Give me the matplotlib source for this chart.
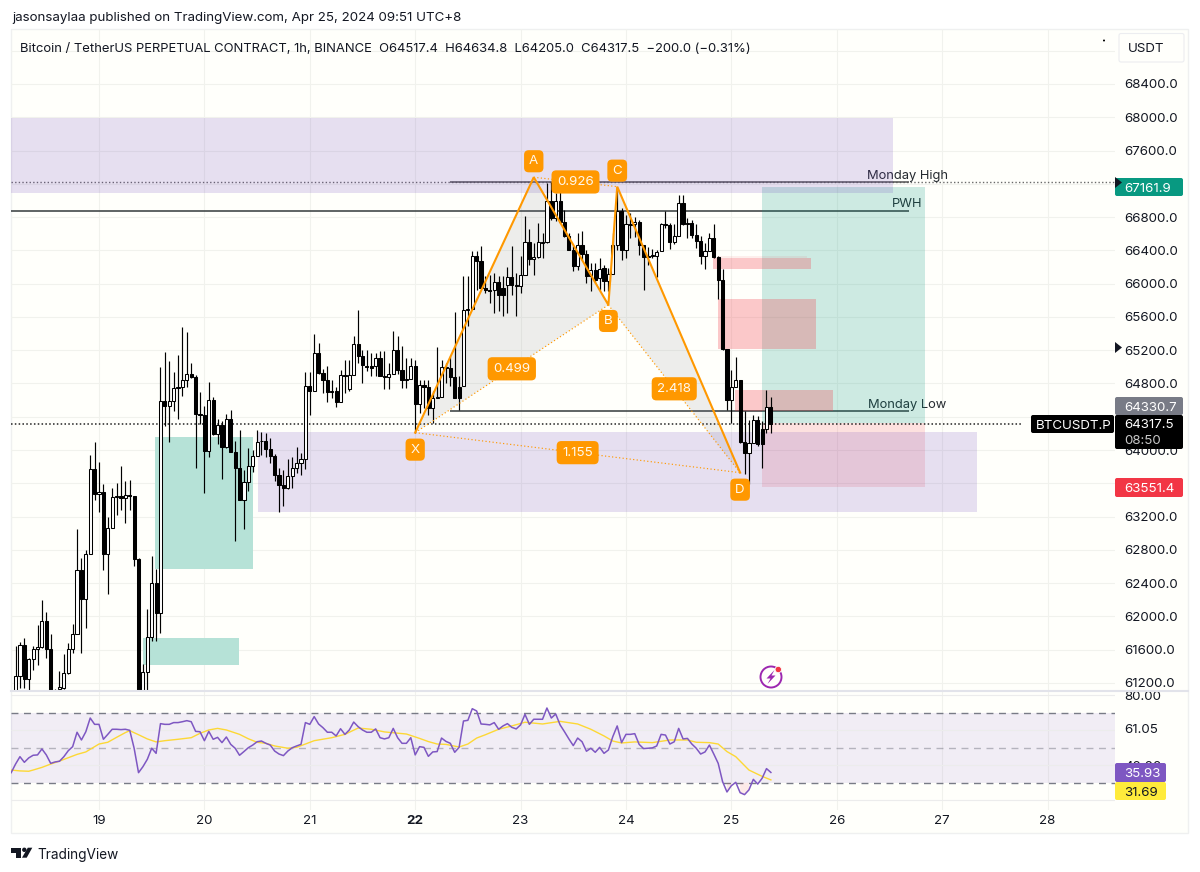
import matplotlib
matplotlib.use("Agg")
import matplotlib.pyplot as plt
from matplotlib.patches import Rectangle, FancyBboxPatch, Polygon, Circle
import numpy as np

plt.rcParams["font.family"] = ["Inter", "DejaVu Sans"]

# hourly candles, first one is Apr 18 05:00 (UTC+8)
opens = [
    61104, 61284, 61652, 61252, 61492, 61612, 61636, 61944, 61612, 61084, 61124, 61144, 61316, 61604, 61792, 62556,
    62212, 62756, 63772, 63476, 63492, 62756, 63068, 63436, 63444, 63424, 63464, 63444, 62692, 61044, 61332, 61752,
    62400, 62044, 64592, 64524, 64592, 64740, 64756, 64836, 64916, 64872, 64432, 64424, 63984, 64604, 64192, 64300,
    64032, 64372, 63980, 63784, 63404, 63612, 63804, 63924, 64112, 64112, 64012, 63932, 63704, 63580, 63540, 63684,
    63784, 63844, 63892, 64764, 64708, 65167, 64927, 64839, 64695, 64707, 64579, 64899, 64735, 64907, 65275, 65127,
    65015, 65007, 65007, 65107, 64887, 64879, 64919, 65199, 64967, 64847, 64855, 65015, 64559, 64787, 64759, 64507,
    64627, 64635, 64999, 64987, 64879, 64759, 64775, 65679, 65695, 66335, 66267, 65947, 65927, 65927, 66019, 65947,
    65987, 66079, 65987, 65967, 66107, 66499, 66295, 66319, 66487, 66495, 66999, 66787, 66999, 66747, 66575, 66407,
    66215, 66459, 66359, 66087, 66167, 66067, 66187, 66027, 66119, 66459, 66875, 66399, 66719, 66719, 66747, 66459,
    66327, 66335, 66335, 66387, 66719, 66707, 66499, 66575, 66975, 66719, 66735, 66587, 66507, 66335, 66387, 66547,
    66319, 66039, 65215, 64599, 64759, 64847, 64095, 63967, 64079, 64359, 64247, 64255, 64517.4,
]
highs = [
    61644, 61692, 61744, 61504, 61644, 61892, 62192, 62052, 61792, 61124, 61344, 61544, 61676, 61904, 63052, 62704,
    62804, 63944, 64096, 63852, 63596, 63196, 63544, 63604, 63812, 63624, 63644, 63452, 62704, 61424, 62092, 62732,
    62572, 64996, 65184, 65076, 64932, 65144, 65476, 65420, 65044, 64904, 64692, 64524, 64816, 64636, 64372, 64344,
    64436, 64476, 64112, 64236, 63764, 64024, 64004, 64236, 64212, 64204, 64144, 63956, 63784, 63756, 63892, 63916,
    64036, 63964, 64944, 64944, 65396, 65287, 64975, 65007, 64847, 64759, 64967, 65087, 65087, 65367, 65679, 65207,
    65207, 65167, 65167, 65195, 65187, 65047, 65427, 65367, 65247, 65107, 65107, 65079, 64847, 64847, 64847, 64707,
    65239, 65087, 65047, 65135, 65655, 64887, 66095, 66087, 66387, 66387, 66447, 66087, 66107, 66127, 66087, 66087,
    66199, 66447, 66127, 66327, 66819, 66655, 66487, 66727, 66607, 67207, 67227, 67087, 67207, 66887, 66607, 66447,
    66607, 66627, 66407, 66247, 66247, 66307, 66227, 66187, 66607, 67167, 66907, 66827, 66847, 66807, 66767, 66467,
    66435, 66419, 66407, 66727, 66875, 66727, 66719, 67067, 67067, 66787, 66767, 66719, 66575, 66487, 66607, 66719,
    66335, 66175, 65215, 64967, 65119, 64847, 64467, 64367, 64427, 64407, 64347, 64719, 64634.8,
]
lows = [
    61064, 61144, 61144, 61116, 61356, 61412, 61624, 61504, 61024, 61044, 61104, 61124, 61304, 61564, 61792, 61564,
    61864, 62756, 63404, 63252, 62556, 62268, 63068, 63224, 63284, 63124, 63284, 62612, 61004, 61004, 61116, 61704,
    61704, 61804, 64284, 64092, 64464, 64372, 64652, 64756, 64860, 63784, 64316, 63484, 63912, 64184, 64072, 63656,
    64024, 63972, 62912, 63404, 63052, 63504, 63732, 63924, 63944, 63916, 63844, 63624, 63252, 63332, 63532, 63544,
    63724, 63704, 63772, 64424, 64804, 64919, 64687, 64575, 64627, 64519, 64579, 64687, 64707, 64907, 65047, 64807,
    64947, 64887, 64887, 64887, 64735, 64735, 64919, 64919, 64747, 64747, 64855, 64207, 64447, 64507, 64427, 64327,
    64627, 64635, 64807, 64767, 64627, 64479, 64775, 65487, 65695, 65927, 65947, 65887, 65767, 65647, 65667, 65607,
    65647, 65867, 65607, 65887, 66107, 66227, 66107, 66307, 66307, 66487, 66767, 66759, 66727, 66559, 66407, 66147,
    66159, 66287, 66007, 65907, 66007, 65927, 65907, 65907, 66119, 66407, 66287, 66307, 66547, 66559, 66347, 65927,
    66227, 66307, 66079, 66387, 66667, 66419, 66479, 66575, 66707, 66547, 66547, 66427, 66239, 66175, 66387, 66307,
    65815, 65207, 64487, 64319, 64759, 64087, 63707, 63587, 64079, 64047, 63787, 64207, 64205.0,
]
closes = [
    61284, 61652, 61252, 61492, 61612, 61636, 61944, 61612, 61084, 61104, 61156, 61316, 61604, 61784, 62556, 62212,
    62756, 63772, 63476, 63492, 62756, 63068, 63436, 63444, 63424, 63464, 63444, 62692, 61044, 61332, 61752, 62400,
    62044, 64592, 64524, 64592, 64740, 64756, 64836, 64916, 64872, 64432, 64424, 63984, 64596, 64192, 64300, 64032,
    64372, 63980, 63784, 63404, 63612, 63804, 63924, 64092, 64104, 64012, 63932, 63704, 63580, 63540, 63684, 63784,
    63844, 63892, 64764, 64708, 65164, 64927, 64839, 64695, 64707, 64579, 64899, 64895, 64899, 65275, 65127, 65027,
    64999, 64991, 65107, 64887, 64879, 64919, 65199, 64967, 64847, 64855, 65015, 64559, 64787, 64759, 64507, 64627,
    64635, 64999, 64987, 64879, 64627, 64627, 65679, 65695, 66335, 66267, 65947, 65927, 65915, 66019, 65859, 65859,
    66079, 65987, 65967, 66107, 66499, 66295, 66319, 66495, 66495, 66999, 66787, 66999, 66747, 66575, 66407, 66215,
    66459, 66359, 66087, 66167, 66039, 66175, 66027, 66119, 66459, 66875, 66399, 66719, 66711, 66747, 66459, 66319,
    66319, 66347, 66379, 66719, 66711, 66499, 66575, 66975, 66719, 66735, 66587, 66507, 66327, 66387, 66547, 66319,
    66039, 65215, 64599, 64759, 64839, 64095, 63967, 64079, 64359, 64067, 64067, 64519, 64317.5,
]

# RSI, one value per hour, starts one hour before the first candle
rsi_values = [
    35.8, 40.7, 44.9, 41.7, 44.2, 45.7, 45.9, 49.3, 45.9, 41.1, 41.9, 42.3, 44.9, 48.3, 50.6, 58.8, 54.4, 59.1, 66.9,
    63.3, 63.3, 54.8, 57.6, 60.5, 60.5, 60.3, 60.5, 59.9, 49.7, 35.8, 39.2, 43.4, 49.7, 46.8, 63.7, 63.3, 63.3, 64.3,
    64.3, 64.8, 65.4, 64.8, 59.3, 59.1, 54.0, 59.3, 54.8, 55.9, 52.9, 56.1, 51.9, 49.7, 45.7, 47.8, 50.0, 51.5, 53.4,
    53.8, 52.5, 51.5, 48.1, 46.4, 45.5, 48.1, 50.0, 51.0, 51.9, 64.3, 63.3, 67.7, 63.5, 61.4, 58.8, 58.8, 56.7, 60.8,
    57.6, 60.1, 64.6, 62.0, 60.1, 58.8, 58.8, 60.7, 55.7, 55.0, 55.7, 61.0, 55.7, 52.5, 52.5, 55.7, 45.9, 50.6,
    50.2, 45.1, 47.6, 47.8, 55.5, 53.6, 52.5, 47.4, 50.2, 65.2, 65.6, 72.2, 70.9, 63.5, 63.3, 63.0, 64.3, 60.5, 62.4,
    63.7, 61.6, 60.7, 63.0, 69.0, 63.3, 66.2, 66.2, 66.2, 72.6, 66.9, 69.2, 63.0, 59.1, 55.0, 51.2, 55.5, 53.4, 48.0,
    49.7, 47.4, 50.2, 46.8, 48.7, 56.3, 62.4, 52.9, 57.6, 57.6, 58.0, 51.9, 49.5, 49.7, 49.9, 51.0, 57.6, 57.2, 52.1,
    53.4, 61.0, 55.0, 55.3, 52.1, 49.7, 46.4, 47.6, 51.5, 46.4, 41.1, 30.7, 24.8, 28.4, 30.3, 24.4, 23.3, 26.0, 32.0,
    29.3, 32.6, 38.1, 35.93,
]
ma_index = [
    -1, 1, 3, 4, 6, 8, 10, 12, 14, 16, 17, 19, 21, 23, 25, 26, 28, 30, 32, 34, 37, 40, 42, 44, 46, 48, 51, 53, 55, 57,
    59, 62, 64, 68, 72, 75, 78, 81, 84, 89, 92, 94, 96, 98, 101, 103, 105, 107, 110, 113, 116, 120, 124, 128, 131,
    134, 136, 138, 141, 145, 149, 153, 155, 158, 160, 162, 164, 167, 170, 172,
]
ma_values = [
    37.3, 36.8, 36.6, 37.3, 38.8, 40.7, 42.4, 44.3, 46.2, 47.6, 49.1, 52.1, 53.1, 55.9, 58.6, 59.7, 57.4, 55.0, 53.3,
    54.0, 54.8, 55.7, 58.2, 60.1, 61.0, 60.1, 57.6, 55.1, 53.1, 52.5, 51.0, 49.7, 50.2, 54.0, 55.7, 57.6, 61.2, 60.5,
    59.0, 57.8, 55.3, 53.5, 52.1, 51.9, 50.4, 52.1, 55.5, 57.4, 60.5, 62.4, 64.5, 63.5, 65.0, 63.5, 60.5, 56.7, 53.8,
    52.7, 53.3, 52.9, 54.4, 54.4, 53.1, 52.9, 52.1, 47.8, 44.9, 37.3, 33.7, 31.69,
]

# zones as day start, day end, price low, price high
purple_zones = [(18.165, 26.533, 67090, 67991), (20.509, 27.33, 63255, 64217)]
teal_zones = [(19.531, 20.458, 62567, 64157), (19.415, 20.331, 61416, 61737)]
red_zones = [(24.825, 25.755, 66176, 66305), (24.876, 25.80, 65218, 65812), (25.034, 25.961, 64469, 64722)]
pale_red_zone = (24.87, 25.72, 66305, 66335)
position_days = (25.29, 26.837)
position_entry = 64330.7
position_target = 67161.9
position_stop = 63551.4

# harmonic pattern
pattern_names = ["X", "A", "B", "C", "D"]
pattern_days = [22.0, 23.125, 23.833, 23.917, 25.083]
pattern_prices = [64209, 67279, 65744, 67166, 63728]
pattern_label_offsets = [-17, 16, -16, 16, -17]
ratio_links = [(1, 3, "0.926"), (0, 2, "0.499"), (2, 4, "2.418"), (0, 4, "1.155")]

price_ticks = np.arange(61200, 68801, 400)
hidden_price_labels = [63600, 64400, 67200, 68800]  # behind the tags or not labelled
day_ticks = list(range(19, 29))
rsi_ticks = [80, 61.05, 40]
rsi_ticklabels = ["80.00", "61.05", "40.00"]

monday_high = 67226
pwh = 66873
monday_low = 64469
last_price = 64317.5

grid_color = "#f1f2ed"
bg_color = "#fffffb"
text_color = "#131722"
orange = "#ff9800"


def add_px_axes(fig, left, top, right, bottom, zorder):
    ax = fig.add_axes(
        [left / 1200, 1 - bottom / 872, (right - left) / 1200, (bottom - top) / 872],
        zorder=zorder,
    )
    return ax


def tag(px, x0, x1, y0, y1, color, text=None, text_color="white", size=9.6, edge="none"):
    px.add_patch(
        FancyBboxPatch(
            (x0 + 1, y0 + 1), x1 - x0 - 2, y1 - y0 - 2,
            boxstyle="round,pad=1,rounding_size=2", fc=color, ec=edge, lw=0.8,
        )
    )
    if text:
        px.text(x0 + 9, (y0 + y1) / 2, text, color=text_color, fontsize=size, ha="left", va="center_baseline")


fig = plt.figure(figsize=(12, 8.72), dpi=100, facecolor="white")

# panel background
bg = add_px_axes(fig, 0, 0, 1200, 872, 0)
bg.set_xlim(0, 1200)
bg.set_ylim(872, 0)
bg.axis("off")
bg.add_patch(Rectangle((11, 29), 1177, 804, fc=bg_color, ec="#eff0f0", lw=1))

# price pane
ax = add_px_axes(fig, 11, 29, 1115, 691, 1)
ax.set_facecolor("none")
ax.set_xlim(18.165, 28.64)
ax.set_ylim(61103.5, 69061)
ax.set_axisbelow(True)
ax.grid(True, color=grid_color, lw=0.8)
for spine in ax.spines.values():
    spine.set_visible(False)
ax.yaxis.tick_right()
ax.set_yticks(price_ticks)
ax.set_yticklabels([f"{p:.1f}" if p not in hidden_price_labels else "" for p in price_ticks],
                   fontsize=9.6, color=text_color)
ax.set_xticks(day_ticks)
ax.set_xticklabels([])
ax.tick_params(length=0, pad=6.5)

hours = np.arange(len(closes))
candle_days = 18 + (5 + hours) / 24
opens_a = np.array(opens)
closes_a = np.array(closes)
highs_a = np.array(highs)
lows_a = np.array(lows)

# zones
for d0, d1, p0, p1 in teal_zones:
    ax.add_patch(Rectangle((d0, p0), d1 - d0, p1 - p0, fc="#b6e2d7", ec="none", zorder=1.5))
for d0, d1, p0, p1 in red_zones:
    ax.add_patch(Rectangle((d0, p0), d1 - d0, p1 - p0, fc="#f23645", alpha=0.27, ec="none", zorder=2.6))
d0, d1, p0, p1 = pale_red_zone
ax.add_patch(Rectangle((d0, p0), d1 - d0, p1 - p0, fc="#f23645", alpha=0.08, ec="none", zorder=2.6))

# long position
pd0, pd1 = position_days
ax.add_patch(Rectangle((pd0, position_entry), pd1 - pd0, position_target - position_entry,
                       fc="#089981", alpha=0.2, ec="none", zorder=2.5))
ax.add_patch(Rectangle((pd0, position_stop), pd1 - pd0, position_entry - position_stop,
                       fc="#f23645", alpha=0.15, ec="none", zorder=2.5))

# levels
ax.hlines(monday_high, 18.165, 28.64, color="#6a6a6a", lw=1, linestyles=(0, (1, 1.6)), zorder=2)
ax.hlines(monday_high, 22.33, 26.69, color="#555555", lw=1.1, zorder=2)
ax.hlines(pwh, 18.165, 26.69, color="#33393b", lw=1.1, zorder=2)
ax.hlines(monday_low, 22.33, 26.69, color="#33393b", lw=1.1, zorder=2)
ax.annotate("Monday High", (26.69, monday_high), xytext=(-2, 6), textcoords="offset pixels",
            ha="center", va="center", fontsize=9.3, color="#252a30", zorder=2)
ax.annotate("PWH", (26.69, pwh), xytext=(-2, 7), textcoords="offset pixels",
            ha="center", va="center", fontsize=9.3, color="#252a30", zorder=2)
ax.annotate("Monday Low", (26.69, monday_low), xytext=(-2, 6), textcoords="offset pixels",
            ha="center", va="center", fontsize=9.3, color="#252a30", zorder=2)

for d0, d1, p0, p1 in purple_zones:
    ax.add_patch(Rectangle((d0, p0), d1 - d0, p1 - p0, fc="#673ab7", alpha=0.16, ec="none", zorder=3))

ax.hlines(last_price, 18.165, 27.765, color="#222222", lw=1.1, linestyles=(0, (1, 1.5)), zorder=3.5)

# pattern fill
ax.fill(pattern_days[:3], pattern_prices[:3], color="#787b86", alpha=0.13, lw=0, zorder=3.2)
ax.fill(pattern_days[2:], pattern_prices[2:], color="#787b86", alpha=0.13, lw=0, zorder=3.2)

# candles
ax.vlines(candle_days, lows_a, highs_a, color="black", lw=0.85, zorder=4)
up = closes_a >= opens_a
body_width = 0.72 / 24
ax.bar(candle_days[up], (closes_a - opens_a)[up], bottom=opens_a[up], width=body_width,
       fc="white", ec="black", lw=0.75, zorder=4.1)
ax.bar(candle_days[~up], (closes_a - opens_a)[~up], bottom=opens_a[~up], width=body_width,
       fc="black", ec="black", lw=0.75, zorder=4.1)

# pattern lines and labels
ax.plot(pattern_days, pattern_prices, color=orange, lw=1.5, zorder=5, solid_joinstyle="miter")
for a, b, name in ratio_links:
    ax.plot([pattern_days[a], pattern_days[b]], [pattern_prices[a], pattern_prices[b]],
            color=orange, lw=0.85, ls=(0, (1, 2)), zorder=5)
    ax.text((pattern_days[a] + pattern_days[b]) / 2, (pattern_prices[a] + pattern_prices[b]) / 2, name,
            color="#fff8ec", fontsize=9.6, ha="center", va="center", zorder=6,
            bbox=dict(boxstyle="round,pad=0.42,rounding_size=0.35", fc=orange, ec="none"))
for name, d, p, off in zip(pattern_names, pattern_days, pattern_prices, pattern_label_offsets):
    ax.annotate(name, (d, p), xytext=(0, off), textcoords="offset pixels", color="#fff8ec",
                fontsize=9.6, ha="center", va="center", zorder=6,
                bbox=dict(boxstyle="round,pad=0.38,rounding_size=0.35", fc=orange, ec="none"))

# RSI pane
rsi_ax = add_px_axes(fig, 11, 691, 1115, 810, 1)
rsi_ax.set_facecolor("none")
rsi_ax.set_xlim(18.165, 28.64)
rsi_ax.set_ylim(14.55, 82.28)
for spine in rsi_ax.spines.values():
    spine.set_visible(False)
rsi_ax.axhspan(30, 70, color="#7e57c2", alpha=0.1, lw=0)
rsi_ax.set_axisbelow(True)
rsi_ax.grid(True, axis="x", color=grid_color, lw=0.8)
rsi_ax.hlines([80, 60, 40, 20], 18.165, 28.64, color="#ececec", lw=0.8, zorder=1)
rsi_ax.hlines([70, 30], 18.165, 28.64, color="#787b86", lw=1, linestyles=(0, (5, 4)), zorder=2)
rsi_ax.hlines(50, 18.165, 28.64, color="#787b86", alpha=0.5, lw=1, linestyles=(0, (5, 4)), zorder=2)

rsi_days = 18 + (4 + np.arange(len(rsi_values))) / 24
rsi_a = np.array(rsi_values)
rsi_ax.fill_between(rsi_days, rsi_a, 30, where=rsi_a < 30, color="#f23645", alpha=0.1, lw=0, zorder=2)
rsi_ax.plot(rsi_days, rsi_a, color="#7e57c2", lw=1.1, zorder=4)
rsi_ax.plot(18 + (5 + np.array(ma_index)) / 24, ma_values, color="#fdd835", lw=1.0, zorder=3)

rsi_ax.yaxis.tick_right()
rsi_ax.set_yticks(rsi_ticks)
rsi_ax.set_yticklabels(rsi_ticklabels, fontsize=9.6, color=text_color)
rsi_ax.set_xticks(day_ticks)
rsi_ax.set_xticklabels([str(d) for d in day_ticks], fontsize=9.6, color=text_color)
rsi_ax.tick_params(length=0)
rsi_ax.tick_params(axis="y", pad=6.5)
rsi_ax.tick_params(axis="x", pad=3.3)
for label in rsi_ax.get_xticklabels():
    if label.get_text() == "22":
        label.set_fontweight("bold")

# overlay in pixels: tags, header, logos
px = add_px_axes(fig, 0, 0, 1200, 872, 5)
px.set_xlim(0, 1200)
px.set_ylim(872, 0)
px.axis("off")

px.plot([11, 1188], [691, 691], color="#e2e3ea", lw=1.5)

px.text(12, 16.5, "jasonsaylaa published on TradingView.com, Apr 25, 2024 09:51 UTC+8",
        fontsize=9.6, color=text_color, va="center_baseline")
px.text(19.5, 47, "Bitcoin / TetherUS PERPETUAL CONTRACT, 1h, BINANCE  O64517.4  H64634.8  L64205.0  C64317.5  \u2212200.0 (\u22120.31%)",
        fontsize=9.38, color=text_color, va="center_baseline")

tag(px, 1119, 1184, 33.5, 62, "#fffffb", "USDT", text_color=text_color, edge="#ecedf0")
px.add_patch(Circle((1104, 40.5), 1, fc="black", ec="none"))

tag(px, 1115, 1183, 178, 196, "#089981", "67161.9")
px.add_patch(Polygon([(1115, 177), (1122, 182.5), (1115, 188)], fc="#131722", ec="none"))
px.add_patch(Polygon([(1115, 342), (1122, 347.5), (1115, 353)], fc="#131722", ec="none"))
tag(px, 1115, 1183, 397, 415, "#787b86", "64330.7")
tag(px, 1115, 1183, 415, 449, "#000000")
px.text(1124, 423.5, "64317.5", color="white", fontsize=9.6, va="center_baseline")
px.text(1124, 439, "08:50", color="#c8c8c8", fontsize=9.6, va="center_baseline")
tag(px, 1031, 1114, 415, 433, "#000000")
px.text(1036, 424, "BTCUSDT.P", color="white", fontsize=9.6, va="center_baseline")
tag(px, 1115, 1183, 478, 497, "#f23645", "63551.4")
tag(px, 1115, 1166, 763, 782, "#7e57c2")
px.text(1124, 772.5, "35.93", color="white", fontsize=9.6, va="center_baseline")
tag(px, 1115, 1166, 782, 800, "#ffeb3b")
px.text(1124, 791, "31.69", color="#131722", fontsize=9.6, va="center_baseline")

# lightning icon
px.add_patch(Circle((771, 677), 10.5, fc="#fffffb", ec="#9c27b0", lw=1.4))
px.add_patch(Polygon([(774.5, 670), (766.5, 678.5), (770.5, 678.5), (767.5, 684), (775.5, 675.5), (771.5, 675.5)],
                     fc="#9c27b0", ec="none"))
px.add_patch(Circle((778.3, 669.5), 3.2, fc="#f23645", ec="#fffffb", lw=0.6))

# TradingView logo
px.add_patch(Polygon([(11, 847.7), (20.7, 847.7), (20.7, 857.7), (16, 857.7), (16, 852.5), (11, 852.5)], fc="#131722", ec="none"))
px.add_patch(Circle((24.3, 849.8), 2.2, fc="#131722", ec="none"))
px.add_patch(Polygon([(27.8, 847.7), (32.3, 847.7), (26.7, 857.7), (22, 857.7)], fc="#131722", ec="none"))
px.text(37, 853, "TradingView", fontsize=9.8, color="#131722", va="center_baseline")

fig.savefig("out.png", dpi=100, facecolor="white")
